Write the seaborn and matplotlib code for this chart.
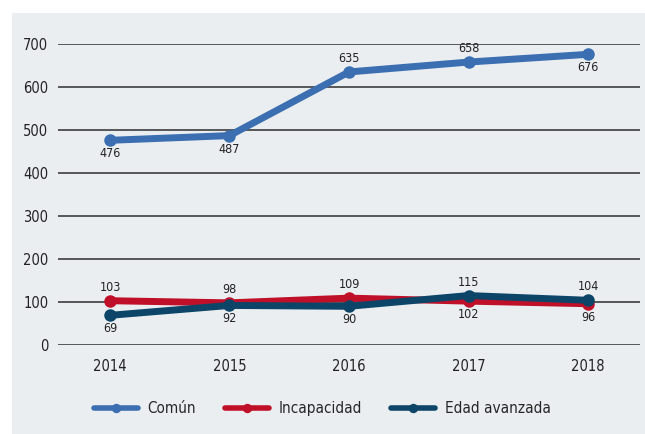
import matplotlib
matplotlib.use("Agg")
import matplotlib.pyplot as plt
import pandas as pd
import seaborn as sns
from matplotlib.patches import Rectangle

# datos
years = ["2014", "2015", "2016", "2017", "2018"]
comun = [476, 487, 635, 658, 676]
incapacidad = [103, 98, 109, 102, 96]
edad = [69, 92, 90, 115, 104]
series = ["Común", "Incapacidad", "Edad avanzada"]
# posicion de la etiqueta: 1 arriba, -1 abajo
pos_comun = [-1, -1, 1, 1, -1]
pos_incap = [1, 1, 1, -1, -1]
pos_edad = [-1, -1, -1, 1, 1]

colors = {"Común": "#3b6fb1", "Incapacidad": "#c01029", "Edad avanzada": "#0c4567"}
bg = "#eaeef0"

df = pd.DataFrame({
    "year": years * 3,
    "value": comun + incapacidad + edad,
    "serie": [series[0]] * 5 + [series[1]] * 5 + [series[2]] * 5,
})

sns.set_style("white")
plt.rcParams["font.family"] = ["DejaVu Sans"]
plt.rcParams["font.stretch"] = "condensed"

fig = plt.figure(figsize=(6.45, 4.34), dpi=100)
fig.patch.set_facecolor("white")
fig.add_artist(Rectangle((12 / 645, 0), 1, 421 / 434, transform=fig.transFigure,
                         facecolor=bg, edgecolor="none", zorder=-10))
ax = fig.add_axes([58 / 645, 89 / 434, 582 / 645, 301 / 434])
ax.set_facecolor(bg)

for y in range(0, 701, 100):
    ax.axhline(y, color="#2e2e2e", lw=1.1, zorder=1)

sns.lineplot(data=df, x="year", y="value", hue="serie", palette=colors,
             marker="o", markersize=9, markeredgewidth=0, linewidth=5,
             ax=ax, zorder=3, legend=True)

for vals, pos in [(comun, pos_comun), (incapacidad, pos_incap), (edad, pos_edad)]:
    for i, (v, p) in enumerate(zip(vals, pos)):
        ax.annotate(str(v), (i, v), xytext=(0, 5 * p), textcoords="offset points",
                    ha="center", va="bottom" if p > 0 else "top",
                    fontsize=9, color="#222222", zorder=4)

ax.set_xlim(-0.435, 4.435)
ax.set_ylim(0, 700)
ax.set_yticks(range(0, 701, 100))
ax.set_xlabel("")
ax.set_ylabel("")
ax.tick_params(axis="both", length=0, labelsize=10.5, colors="#222222")
ax.tick_params(axis="y", pad=7)
ax.tick_params(axis="x", pad=10)
for s in ax.spines.values():
    s.set_visible(False)

leg = ax.legend(loc="upper center", bbox_to_anchor=(0.454, -0.14), ncol=3, frameon=False,
                fontsize=11, handlelength=2.9, handletextpad=0.6, columnspacing=1.9,
                markerscale=0.75)
for h in leg.legend_handles:
    h.set_linewidth(4)

fig.savefig("out.png", dpi=100, facecolor=fig.get_facecolor())
